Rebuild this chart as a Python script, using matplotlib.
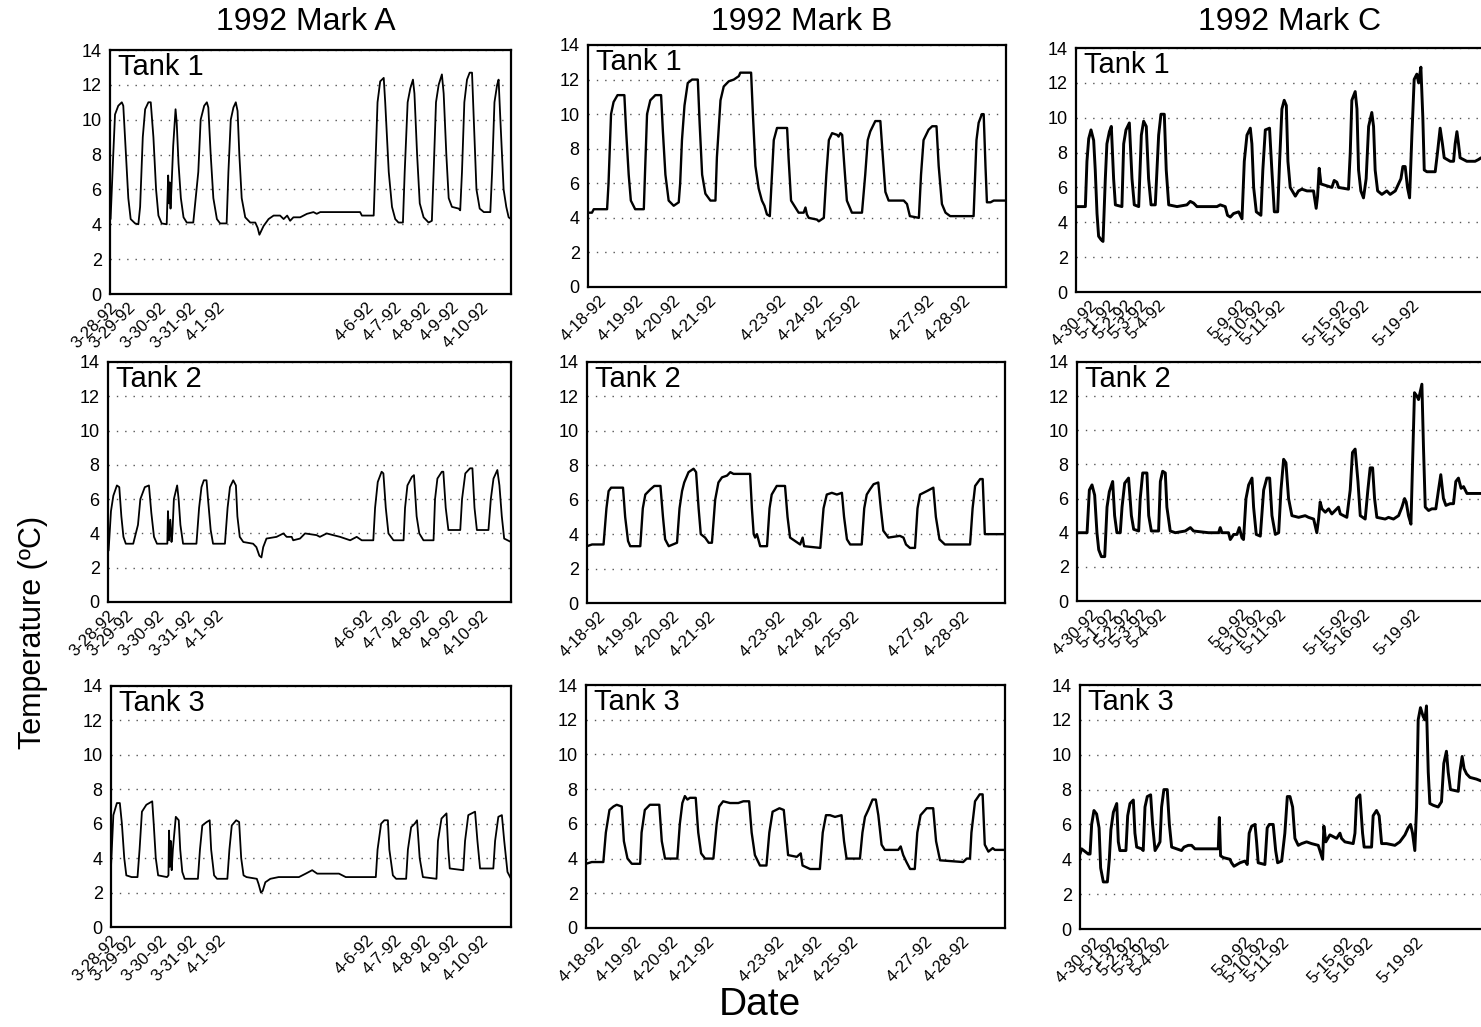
import numpy as np
import matplotlib
matplotlib.use("Agg")
from matplotlib import pyplot as plt

plt.rcParams['font.family'] = ['Liberation Sans', 'DejaVu Sans']

# time in days from the start of each record, temperature in deg C
a_ticks = [0.0, 0.6, 1.65, 2.67, 3.64, 8.67, 9.63, 10.6, 11.56, 12.57]
a_labels = ['3-28-92', '3-29-92', '3-30-92', '3-31-92', '4-1-92',
            '4-6-92', '4-7-92', '4-8-92', '4-9-92', '4-10-92']
b_ticks = [0.3, 1.33, 2.35, 3.35, 5.3, 6.33, 7.35, 9.4, 10.42]
b_labels = ['4-18-92', '4-19-92', '4-20-92', '4-21-92', '4-23-92',
            '4-24-92', '4-25-92', '4-27-92', '4-28-92']
c_ticks = [0.79, 1.81, 2.77, 3.62, 4.64, 9.28, 10.3, 11.43, 15.04, 16.17, 19.0]
c_labels = ['4-30-92', '5-1-92', '5-2-92', '5-3-92', '5-4-92', '5-9-92',
            '5-10-92', '5-11-92', '5-15-92', '5-16-92', '5-19-92']

a_tank1 = [(0.00,4.3),(0.02,4.3),(0.11,8.0),(0.17,10.3),(0.28,10.8),(0.40,11.0),(0.45,10.8),(0.54,8.0),(0.62,5.5),(0.70,4.3),(0.85,4.05),(0.96,4.0),
           (1.02,5.0),(1.11,9.0),(1.19,10.6),(1.30,11.0),(1.38,11.0),(1.47,9.0),(1.56,6.0),(1.64,4.5),(1.75,4.05),(1.92,4.0),
           (1.97,6.8),(2.00,5.2),(2.02,6.4),(2.05,4.9),(2.08,6.0),(2.14,8.5),(2.22,10.6),(2.26,9.8),(2.32,7.5),(2.40,5.5),(2.49,4.4),(2.60,4.1),(2.82,4.1),
           (2.99,7.0),(3.07,10.0),(3.19,10.8),(3.28,11.0),(3.33,10.7),(3.41,8.0),(3.50,5.5),(3.62,4.3),(3.73,4.05),(3.95,4.05),
           (4.01,7.0),(4.09,10.0),(4.18,10.7),(4.26,11.0),(4.32,10.5),(4.38,8.0),(4.46,5.5),(4.58,4.4),(4.75,4.1),(4.92,4.1),
           (5.00,3.8),(5.06,3.4),(5.20,3.9),(5.37,4.3),(5.54,4.5),(5.76,4.5),(5.88,4.3),(6.00,4.5),(6.10,4.2),(6.21,4.4),(6.44,4.4),(6.67,4.6),(6.89,4.7),(7.00,4.6),(7.12,4.7),(8.02,4.7),(8.47,4.7),(8.53,4.5),(8.93,4.5),
           (8.98,7.0),(9.06,11.0),(9.15,12.2),(9.27,12.4),(9.32,11.0),(9.44,7.0),(9.55,5.0),(9.66,4.3),(9.77,4.1),(9.92,4.1),
           (9.98,7.0),(10.08,11.0),(10.17,11.8),(10.26,12.3),(10.31,11.5),(10.40,8.0),(10.49,5.2),(10.62,4.4),(10.79,4.1),(10.90,4.2),
           (10.96,7.0),(11.04,11.0),(11.13,12.0),(11.24,12.6),(11.30,11.5),(11.39,8.0),(11.47,5.5),(11.58,5.0),(11.81,4.9),(11.86,4.8),
           (11.92,7.0),(12.00,11.0),(12.09,12.3),(12.18,12.7),(12.26,12.7),(12.32,10.0),(12.41,6.0),(12.52,4.9),(12.66,4.7),(12.88,4.7),
           (12.94,7.0),(13.02,11.0),(13.11,12.0),(13.16,12.3),(13.22,10.0),(13.33,6.0),(13.42,5.0),(13.50,4.4),(13.58,4.3)]

a_tank2 = [(0.00,3.0),(0.02,3.0),(0.10,5.3),(0.18,6.2),(0.30,6.8),(0.38,6.7),(0.45,5.0),(0.52,3.8),(0.60,3.4),(0.85,3.4),
           (1.01,4.5),(1.09,6.0),(1.24,6.7),(1.38,6.8),(1.46,5.2),(1.55,3.8),(1.65,3.4),(1.91,3.4),(2.00,3.4),
           (2.02,5.3),(2.06,3.6),(2.10,4.8),(2.14,3.5),(2.17,4.0),(2.22,6.0),(2.33,6.8),(2.38,6.0),(2.44,4.5),(2.53,3.4),(2.98,3.4),
           (3.07,5.5),(3.15,6.7),(3.23,7.1),(3.32,7.1),(3.37,6.0),(3.46,4.2),(3.54,3.4),(3.94,3.4),
           (4.03,5.5),(4.11,6.7),(4.22,7.1),(4.31,6.8),(4.36,5.0),(4.44,3.8),(4.56,3.5),(4.89,3.4),
           (5.00,3.2),(5.10,2.7),(5.17,2.6),(5.23,3.2),(5.34,3.7),(5.68,3.8),(5.91,4.0),(6.02,3.8),(6.19,3.8),(6.24,3.6),(6.47,3.7),(6.64,4.0),(7.03,3.9),(7.14,3.8),(7.37,4.0),(7.59,3.9),(7.82,3.8),(8.16,3.6),(8.38,3.8),(8.55,3.6),(8.94,3.6),
           (9.00,5.5),(9.09,7.0),(9.22,7.6),(9.28,7.5),(9.36,5.5),(9.45,4.0),(9.62,3.6),(9.96,3.6),
           (10.01,5.5),(10.09,6.8),(10.24,7.3),(10.31,7.4),(10.40,5.0),(10.49,4.0),(10.63,3.6),(10.97,3.6),
           (11.02,6.0),(11.10,7.2),(11.25,7.6),(11.30,7.6),(11.38,5.5),(11.47,4.2),(11.87,4.2),
           (11.93,6.0),(12.04,7.5),(12.20,7.8),(12.28,7.8),(12.35,5.5),(12.43,4.2),(12.82,4.2),
           (12.90,6.0),(12.99,7.2),(13.12,7.7),(13.19,6.8),(13.27,5.0),(13.35,3.7),(13.58,3.5)]

a_tank3 = [(0.00,3.5),(0.08,6.5),(0.20,7.2),(0.30,7.2),(0.37,6.0),(0.45,4.0),(0.52,3.0),(0.70,2.9),(0.90,2.9),
           (0.97,4.5),(1.05,6.7),(1.20,7.1),(1.40,7.3),(1.45,6.0),(1.52,4.0),(1.60,3.0),(1.90,2.9),
           (1.95,3.0),(1.97,5.6),(2.00,3.5),(2.03,5.0),(2.06,3.3),(2.10,4.5),(2.20,6.4),(2.30,6.2),(2.35,4.5),(2.42,3.2),(2.50,2.8),(2.95,2.8),
           (3.02,4.5),(3.10,5.9),(3.25,6.1),(3.35,6.2),(3.40,4.5),(3.50,3.0),(3.60,2.8),(3.95,2.8),
           (4.02,4.5),(4.10,5.9),(4.25,6.2),(4.35,6.1),(4.42,4.0),(4.50,3.0),(4.60,2.9),(4.95,2.8),
           (5.01,2.5),(5.09,2.0),(5.15,2.1),(5.24,2.6),(5.41,2.8),(5.69,2.9),(6.38,2.9),(6.61,3.1),(6.83,3.3),(7.00,3.1),(7.74,3.1),(7.97,2.9),(8.99,2.9),
           (9.05,4.5),(9.17,6.0),(9.28,6.2),(9.40,6.2),(9.45,4.5),(9.57,3.0),(9.68,2.8),(10.02,2.8),
           (10.08,4.5),(10.19,5.8),(10.31,6.0),(10.39,6.2),(10.48,4.0),(10.59,2.9),(11.05,2.8),
           (11.10,5.0),(11.22,6.3),(11.39,6.6),(11.45,4.5),(11.50,3.4),(11.96,3.3),
           (12.02,5.0),(12.13,6.5),(12.36,6.7),(12.44,5.0),(12.53,3.4),(12.98,3.4),
           (13.04,5.0),(13.15,6.4),(13.27,6.5),(13.35,5.0),(13.46,3.2),(13.58,2.8)]

b_tank1 = [(0.00,4.3),(0.11,4.3),(0.16,4.5),(0.53,4.5),(0.57,6.0),(0.64,10.0),(0.71,10.7),(0.82,11.1),(1.01,11.1),(1.06,9.0),(1.13,6.5),(1.19,5.0),(1.31,4.5),(1.55,4.5),
           (1.59,7.0),(1.64,10.0),(1.73,10.8),(1.87,11.1),(2.03,11.1),(2.08,9.0),(2.15,6.5),(2.24,5.0),(2.38,4.7),(2.52,4.9),(2.56,6.0),
           (2.61,8.5),(2.68,10.5),(2.77,11.8),(2.89,12.0),(3.05,12.0),(3.10,9.5),(3.17,6.5),(3.26,5.4),(3.40,5.0),(3.54,5.0),(3.58,7.5),
           (3.68,10.8),(3.77,11.6),(3.91,11.9),(4.05,12.0),(4.19,12.2),(4.23,12.4),(4.53,12.4),(4.58,10.0),(4.65,7.0),(4.74,5.7),(4.83,5.0),(4.90,4.7),(4.97,4.2),(5.05,4.1),
           (5.11,6.5),(5.16,8.5),(5.25,9.2),(5.53,9.2),(5.57,7.5),(5.64,5.0),(5.76,4.6),(5.85,4.3),(5.99,4.3),(6.04,4.6),(6.08,4.2),(6.13,4.0),(6.36,3.9),(6.41,3.8),(6.55,4.0),
           (6.62,6.5),(6.69,8.5),(6.78,8.9),(6.92,8.8),(6.96,8.7),(7.01,8.9),(7.06,8.8),(7.12,7.0),(7.19,5.0),(7.33,4.3),(7.61,4.3),
           (7.70,6.5),(7.77,8.5),(7.84,9.0),(7.98,9.6),(8.12,9.6),(8.19,7.5),(8.26,5.5),(8.35,5.0),(8.77,5.0),(8.86,4.8),(8.94,4.1),(9.19,4.0),
           (9.25,6.5),(9.32,8.5),(9.46,9.1),(9.56,9.3),(9.68,9.3),(9.74,7.0),(9.83,4.8),(9.93,4.3),(10.06,4.1),(10.71,4.1),
           (10.79,8.5),(10.85,9.5),(10.94,10.0),(10.99,10.0),(11.04,7.0),(11.08,4.9),(11.18,4.9),(11.27,5.0),(11.55,5.0),(11.61,5.0)]

b_tank2 = [(0.00,3.3),(0.14,3.4),(0.46,3.4),(0.54,5.5),(0.60,6.5),(0.67,6.7),(1.00,6.7),(1.06,5.0),(1.14,3.6),(1.20,3.3),(1.48,3.3),
           (1.55,5.5),(1.62,6.3),(1.76,6.6),(1.87,6.8),(2.04,6.8),(2.11,5.0),(2.17,3.7),(2.27,3.3),(2.50,3.5),
           (2.57,5.5),(2.64,6.5),(2.70,7.0),(2.82,7.6),(2.96,7.8),(3.03,7.6),(3.10,5.5),(3.16,4.0),(3.28,3.8),(3.38,3.5),(3.47,3.5),
           (3.56,6.0),(3.65,7.0),(3.75,7.3),(3.89,7.4),(3.98,7.6),(4.07,7.5),(4.53,7.5),(4.58,5.5),(4.63,4.0),(4.67,3.8),(4.72,4.0),(4.81,3.3),(5.00,3.3),
           (5.07,5.5),(5.13,6.3),(5.27,6.8),(5.50,6.8),(5.57,5.0),(5.64,3.8),(5.78,3.6),(5.92,3.4),(5.99,3.8),(6.03,3.3),(6.48,3.2),
           (6.57,5.5),(6.66,6.3),(6.80,6.4),(6.94,6.3),(7.08,6.4),(7.14,5.0),(7.22,3.7),(7.31,3.4),(7.63,3.4),
           (7.70,5.5),(7.77,6.3),(7.86,6.6),(7.96,6.9),(8.09,7.0),(8.16,5.5),(8.23,4.2),(8.37,3.8),(8.69,3.9),(8.79,3.8),(8.86,3.4),(8.97,3.2),(9.11,3.2),
           (9.18,5.5),(9.25,6.3),(9.44,6.5),(9.62,6.7),(9.69,5.0),(9.79,3.7),(9.94,3.4),(10.64,3.4),
           (10.71,5.5),(10.78,6.8),(10.92,7.2),(10.99,7.2),(11.05,4.0),(11.24,4.0),(11.61,4.0)]

b_tank3 = [(0.00,3.7),(0.16,3.8),(0.48,3.8),(0.55,5.5),(0.65,6.8),(0.76,7.0),(0.85,7.1),(0.99,7.0),(1.05,5.0),(1.15,4.0),(1.27,3.7),(1.50,3.7),
           (1.54,5.5),(1.63,6.8),(1.77,7.1),(2.03,7.1),(2.10,5.0),(2.19,4.0),(2.53,4.0),
           (2.60,6.0),(2.67,7.2),(2.74,7.6),(2.81,7.4),(2.88,7.5),(3.04,7.5),(3.11,5.5),(3.19,4.3),(3.30,4.0),(3.53,4.0),
           (3.62,6.0),(3.69,7.0),(3.80,7.3),(3.99,7.2),(4.22,7.2),(4.36,7.3),(4.52,7.3),(4.59,5.5),(4.68,4.2),(4.82,3.6),(5.00,3.6),
           (5.08,5.5),(5.17,6.7),(5.36,6.9),(5.48,6.8),(5.54,5.5),(5.60,4.2),(5.84,4.1),(5.95,4.3),(6.00,3.6),(6.21,3.4),(6.48,3.4),
           (6.56,5.5),(6.65,6.5),(6.76,6.5),(6.90,6.4),(7.08,6.5),(7.15,5.0),(7.22,4.0),(7.59,4.0),
           (7.66,5.5),(7.73,6.4),(7.82,6.8),(7.94,7.4),(8.03,7.4),(8.10,6.5),(8.19,4.8),(8.28,4.5),(8.65,4.5),(8.72,4.7),(8.79,4.2),(8.88,3.8),(8.98,3.4),(9.11,3.4),
           (9.18,5.5),(9.27,6.5),(9.44,6.9),(9.62,6.9),(9.70,5.0),(9.81,3.9),(10.45,3.8),(10.55,4.0),(10.64,4.0),
           (10.68,5.5),(10.78,7.3),(10.91,7.7),(10.99,7.7),(11.05,4.8),(11.15,4.4),(11.27,4.6),(11.33,4.5),(11.61,4.5)]

c_tank1 = [(0.00,4.9),(0.53,4.9),(0.62,7.5),(0.72,8.8),(0.85,9.3),(1.00,8.7),(1.09,7.0),(1.19,4.5),(1.28,3.2),(1.42,3.0),(1.53,2.9),
           (1.66,6.5),(1.75,8.5),(1.89,9.2),(2.00,9.5),(2.13,6.5),(2.23,5.0),(2.60,4.9),
           (2.70,8.5),(2.83,9.3),(3.02,9.7),(3.17,6.5),(3.30,5.0),(3.55,4.9),
           (3.70,9.0),(3.83,9.8),(3.98,9.5),(4.11,6.5),(4.25,5.0),(4.49,5.0),
           (4.68,9.0),(4.81,10.2),(5.00,10.2),(5.11,7.0),(5.25,5.0),(5.72,4.9),(6.28,5.0),(6.47,5.2),(6.66,5.1),(6.85,4.9),(7.42,4.9),(7.98,4.9),(8.17,5.0),(8.45,4.9),(8.58,4.4),(8.74,4.3),(8.92,4.5),(9.21,4.6),(9.40,4.2),
           (9.53,7.5),(9.68,9.0),(9.87,9.4),(9.96,8.5),(10.06,6.0),(10.21,4.6),(10.47,4.4),
           (10.58,7.0),(10.72,9.3),(10.96,9.4),(11.09,7.0),(11.23,4.6),(11.42,4.6),
           (11.53,7.5),(11.66,10.5),(11.79,11.0),(11.91,10.7),(12.00,7.5),(12.13,6.0),(12.42,5.5),(12.60,5.8),(12.79,5.9),(13.08,5.8),(13.45,5.8),(13.60,4.8),(13.68,5.5),(13.77,7.1),(13.87,6.2),
           (14.49,6.0),(14.62,6.4),(14.77,6.3),(14.87,6.0),(15.43,5.9),
           (15.53,8.0),(15.62,11.0),(15.81,11.5),(15.91,10.5),(16.00,7.0),(16.13,5.8),(16.28,5.4),
           (16.43,6.5),(16.57,9.5),(16.75,10.3),(16.85,9.5),(16.94,7.0),(17.08,5.8),(17.32,5.6),(17.60,5.8),(17.79,5.6),(18.08,5.8),(18.26,6.2),(18.40,6.5),(18.51,7.2),(18.64,7.2),(18.77,6.0),(18.89,5.4),
           (19.02,9.0),(19.15,12.2),(19.30,12.5),(19.40,12.0),(19.53,12.9),(19.64,10.0),(19.72,7.0),(19.87,6.9),(20.34,6.9),
           (20.47,8.0),(20.62,9.4),(20.75,8.5),(20.85,7.7),(21.19,7.5),(21.38,7.5),
           (21.47,8.5),(21.57,9.2),(21.66,8.5),(21.75,7.7),(22.13,7.5),(22.60,7.5),(22.79,7.6),(22.94,7.7),(23.50,7.7)]

c_tank2 = [(0.00,4.0),(0.57,4.0),(0.70,6.5),(0.85,6.8),(1.00,6.2),(1.13,4.0),(1.23,3.0),(1.38,2.6),(1.57,2.6),
           (1.70,5.5),(1.83,6.4),(2.02,7.0),(2.13,5.0),(2.26,4.0),(2.45,4.0),
           (2.55,5.5),(2.70,6.9),(2.92,7.2),(3.08,5.0),(3.21,4.2),(3.49,4.1),
           (3.58,6.0),(3.72,7.5),(3.96,7.5),(4.06,5.0),(4.21,4.1),(4.62,4.1),
           (4.72,7.0),(4.85,7.6),(5.00,7.5),(5.09,5.5),(5.28,4.1),(5.57,4.0),(6.13,4.1),(6.42,4.3),(6.60,4.1),(7.45,4.0),(8.02,4.0),(8.11,4.3),(8.21,4.0),(8.58,4.0),(8.68,3.6),(8.87,3.9),(9.06,3.9),(9.19,4.3),(9.34,3.7),(9.43,3.6),
           (9.57,6.0),(9.72,6.8),(9.91,7.2),(10.00,5.5),(10.15,3.9),(10.38,3.8),
           (10.57,6.5),(10.75,7.2),(10.91,7.2),(11.04,5.0),(11.23,3.9),(11.42,4.0),
           (11.55,6.5),(11.70,8.3),(11.83,8.1),(11.98,6.0),(12.17,5.0),(12.55,4.9),(12.92,5.0),(13.11,4.9),(13.40,4.8),(13.58,4.0),(13.68,4.8),(13.77,5.8),(13.87,5.4),(14.06,5.2),(14.25,5.4),(14.43,5.1),(14.62,5.3),(14.81,5.5),(14.91,5.1),(15.28,4.9),
           (15.47,6.5),(15.60,8.7),(15.75,8.9),(15.91,7.0),(16.04,5.0),(16.32,4.8),
           (16.47,6.5),(16.60,7.8),(16.74,7.8),(16.85,6.0),(16.98,4.9),(17.45,4.8),(17.64,4.9),(17.92,4.8),(18.21,5.0),(18.40,5.5),(18.55,6.0),(18.64,5.8),(18.77,5.0),(18.91,4.5),
           (19.00,8.0),(19.11,12.2),(19.25,12.0),(19.34,11.8),(19.53,12.7),(19.62,9.0),(19.72,5.5),(19.91,5.3),(20.09,5.4),(20.32,5.4),
           (20.47,6.5),(20.60,7.4),(20.75,6.0),(20.89,5.6),(21.13,5.7),(21.32,5.7),
           (21.45,7.0),(21.60,7.2),(21.75,6.6),(21.89,6.7),(22.08,6.3),(22.36,6.3),(22.83,6.3),(23.50,6.3)]

c_tank3 = [(0.00,4.3),(0.09,4.6),(0.47,4.3),(0.57,4.3),(0.66,6.0),(0.79,6.8),(0.94,6.6),(1.08,5.8),(1.17,3.5),(1.32,2.7),(1.55,2.7),
           (1.66,4.0),(1.75,5.7),(1.89,6.7),(2.08,7.2),(2.17,5.0),(2.26,4.5),(2.60,4.5),
           (2.70,6.5),(2.83,7.2),(3.02,7.4),(3.11,5.5),(3.21,4.7),(3.49,4.6),(3.58,4.5),
           (3.68,7.0),(3.81,7.6),(4.00,7.7),(4.11,6.0),(4.25,4.5),(4.43,4.8),(4.53,5.0),
           (4.62,7.0),(4.75,8.0),(4.94,8.0),(5.06,6.0),(5.19,4.7),(5.47,4.6),(5.75,4.5),(5.89,4.7),(6.13,4.8),(6.32,4.8),(6.51,4.6),(6.98,4.6),(7.83,4.6),(7.89,6.4),(7.96,4.2),(8.11,4.1),(8.49,4.0),(8.58,3.8),(8.72,3.6),(9.06,3.8),(9.34,3.9),(9.47,3.7),
           (9.58,5.5),(9.72,5.9),(9.91,6.0),(10.00,5.0),(10.09,3.8),(10.47,3.7),
           (10.60,5.8),(10.72,6.0),(10.94,6.0),(11.08,4.5),(11.19,3.8),(11.42,3.9),
           (11.60,5.5),(11.74,7.6),(11.89,7.6),(12.04,7.0),(12.17,5.2),(12.36,4.8),(12.55,4.9),(12.83,5.0),(13.11,4.9),(13.49,4.8),(13.68,4.2),(13.74,4.0),(13.81,5.9),(13.92,5.0),(14.15,5.4),(14.34,5.3),(14.53,5.2),(14.72,5.5),(14.81,5.2),(15.00,5.0),(15.47,4.9),
           (15.57,5.5),(15.66,7.5),(15.85,7.7),(16.00,5.5),(16.09,4.7),(16.51,4.7),
           (16.60,6.5),(16.79,6.8),(16.94,6.5),(17.08,4.9),(17.36,4.9),(17.83,4.8),(18.11,5.0),(18.40,5.4),(18.58,5.8),(18.72,6.0),(18.83,5.5),(18.96,4.5),
           (19.06,7.0),(19.15,12.0),(19.28,12.7),(19.43,12.2),(19.53,12.0),(19.62,12.8),(19.72,9.0),(19.81,7.2),(20.00,7.1),(20.28,7.0),(20.47,7.3),
           (20.60,9.5),(20.75,10.2),(20.85,9.0),(20.98,8.0),(21.42,7.9),
           (21.51,9.0),(21.64,9.9),(21.75,9.2),(21.89,8.9),(22.08,8.7),(22.45,8.6),(22.70,8.5),(23.50,8.5)]

titles = ['1992 Mark A', '1992 Mark B', '1992 Mark C']
tank_names = ['Tank 1', 'Tank 2', 'Tank 3']

W, H = 1481, 1027
fig = plt.figure(figsize=(W / 100, H / 100), dpi=100)


def box(l, t, r, b):
    return fig.add_axes([l / W, 1 - b / H, (r - l) / W, (b - t) / H])


# pixel boxes (left, top, right, bottom) of each panel
boxes = [
    [(110, 50, 511, 294), (108, 362, 511, 602), (111, 686, 511, 927)],
    [(588, 45, 1006, 287), (587, 362, 1005, 603), (586, 685, 1005, 928)],
    [(1076, 48, 1491, 292), (1077, 362, 1492, 601), (1080, 685, 1495, 929)],
]
columns = [
    ([a_tank1, a_tank2, a_tank3], a_ticks, a_labels, 13.58, 1.3),
    ([b_tank1, b_tank2, b_tank3], b_ticks, b_labels, 11.61, 1.7),
    ([c_tank1, c_tank2, c_tank3], c_ticks, c_labels, 23.5, 2.1),
]

for col, (tanks, ticks, labels, xmax, lw) in enumerate(columns):
    for row, tank in enumerate(tanks):
        ax = box(*boxes[col][row])
        t, y = np.array(tank).T
        ax.plot(t, y, color='black', lw=lw, zorder=3,
                solid_joinstyle='round', solid_capstyle='round')
        ax.set_xlim(0, xmax)
        ax.set_ylim(0, 14)
        ax.set_yticks(range(0, 15, 2))
        ax.set_xticks(ticks)
        ax.set_xticklabels(labels, rotation=45, ha='right', rotation_mode='anchor')
        ax.tick_params(axis='both', length=0)
        ax.tick_params(axis='y', pad=6, labelsize=13)
        ax.tick_params(axis='x', pad=4, labelsize=12)
        ax.grid(axis='y', color='#555555', linestyle=(0, (1, 5)), linewidth=1)
        ax.set_axisbelow(True)
        for s in ax.spines.values():
            s.set_linewidth(1.6)
        ax.annotate(tank_names[row], xy=(0, 1), xycoords='axes fraction',
                    xytext=(6, -2), textcoords='offset points',
                    ha='left', va='top', fontsize=21)

for x, title in zip([306, 802, 1290], titles):
    fig.text(x / W, 1 - 22 / H, title, ha='center', va='center', fontsize=23)

fig.text(33 / W, 1 - 632 / H, 'Temperature (ºC)', rotation=90,
         ha='center', va='center', fontsize=22)
fig.text(760 / W, 1 - 1005 / H, 'Date', ha='center', va='center', fontsize=28)

fig.savefig('out.png', dpi=100)
